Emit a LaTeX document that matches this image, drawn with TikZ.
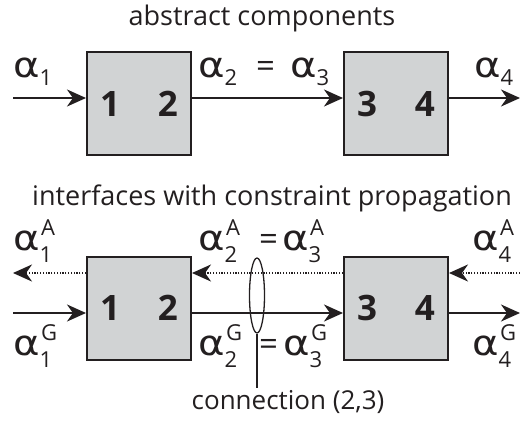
\documentclass[tikz,border=0pt]{standalone}
\usepackage{graphicx}
\usepackage{fontspec}
\setmainfont{Open Sans}
\newfontfamily\grk{DejaVu Sans}
\usetikzlibrary{arrows.meta,shapes.geometric}
\definecolor{ink}{HTML}{231F20}
\definecolor{boxgray}{HTML}{D1D3D4}
\newcommand\subf{\fontsize{22}{26}\selectfont}
% #1 sub, #2 sup, #3 sub shift, #4 sup shift
\newcommand\alp[4]{{\grk\fontsize{35}{40}\selectfont\scalebox{1.15}[1]{α}}\makebox[0pt][l]{\hspace{1.5pt}\raisebox{#4}{\subf #2}}\raisebox{#3}{\subf #1}}
\begin{document}
\begin{tikzpicture}[x=1pt,y=-1pt,
  comp/.style={draw=ink, fill=boxgray, line width=2pt, minimum width=104pt, minimum height=103pt, inner sep=0pt, text=ink, font=\fontsize{35}{40}\selectfont\bfseries},
  lab/.style={anchor=base west, inner sep=0pt, text=ink, font=\fontsize{33}{38}\selectfont},
  title/.style={anchor=base, inner sep=0pt, text=ink, font=\fontsize{27}{31}\selectfont},
  note/.style={anchor=base, inner sep=0pt, text=ink, font=\fontsize{26}{30}\selectfont},
  flow/.style={draw=ink, line width=2.3pt, -{Stealth[length=19pt,width=17pt,inset=6pt]}},
  back/.style={flow, dash pattern=on 1.3pt off 1.5pt}]
\useasboundingbox (0,0) rectangle (520,421);
% top row
\node[title] (t1) at (262,25) {abstract components};
\node[comp] (a12) at (139,103.5) {1\hspace{38pt}2};
\node[comp] (a34) at (396,103.5) {3\hspace{38pt}4};
\coordinate (ain) at (13,98);
\coordinate (aout) at (520,98);
\draw[flow] (ain) -- (ain -| a12.west);
\draw[flow] (a12.east |- ain) -- (a34.west |- ain);
\draw[flow] (a34.east |- ain) -- (aout);
\node[lab] (l1) at (13,77) {\alp{1}{}{-8pt}{0pt}};
\node[lab] (l2) at (198,77) {\alp{2}{}{-8pt}{0pt}};
\node[lab] (leq) at (256,77) {=};
\node[lab] (l3) at (290,77) {\alp{3}{}{-8pt}{0pt}};
\node[lab] (l4) at (474,77) {\alp{4}{}{-8pt}{0pt}};
% bottom row
\node[title] (t2) at (272,205) {interfaces with constraint propagation};
\node[comp] (b12) at (139,308) {1\hspace{38pt}2};
\node[comp] (b34) at (396,308) {3\hspace{38pt}4};
\coordinate (gin) at (13,313);
\coordinate (gout) at (520,313);
\coordinate (aL) at (13,273);
\coordinate (aR) at (520,273);
\draw[flow] (gin) -- (gin -| b12.west);
\draw[flow] (b12.east |- gin) -- (b34.west |- gin);
\draw[flow] (b34.east |- gin) -- (gout);
\draw[back] (b12.west |- aL) -- (aL);
\draw[back] (b34.west |- aL) -- (b12.east |- aL);
\draw[back] (aR) -- (b34.east |- aR);
\node[lab] (m1a) at (13,250) {\alp{1}{A}{-12pt}{15pt}};
\node[lab] (m1g) at (13,355) {\alp{1}{G}{-12pt}{15pt}};
\node[lab] (m2a) at (198,250) {\alp{2}{A}{-12pt}{15pt}};
\node[lab] (eqa) at (259,250) {=};
\node[lab] (m3a) at (282,250) {\alp{3}{A}{-12pt}{15pt}};
\node[lab] (m4a) at (472,250) {\alp{4}{A}{-12pt}{15pt}};
\node[lab] (m2g) at (198,355) {\alp{2}{G}{-12pt}{15pt}};
\node[lab] (eqg) at (259,355) {=};
\node[lab] (m3g) at (283,355) {\alp{3}{G}{-12pt}{15pt}};
\node[lab] (m4g) at (472,355) {\alp{4}{G}{-12pt}{15pt}};
% connection
\node[draw=ink, line width=1.3pt, ellipse, minimum width=15pt, minimum height=75pt, inner sep=0pt] (conn) at (257,295.5) {};
\coordinate (cend) at (257,388);
\draw[ink, line width=1.3pt] (conn.south) -- (cend);
\node[note] (ctext) at (288,409) {connection (2,3)};
\end{tikzpicture}
\end{document}
